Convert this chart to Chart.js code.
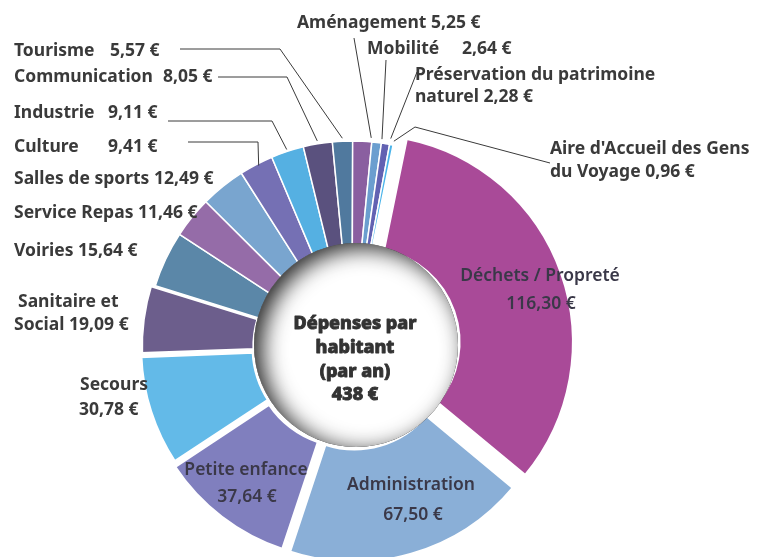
<!DOCTYPE html>
<html><head><meta charset="utf-8">
<script src="https://cdn.jsdelivr.net/npm/chart.js@4.4.1/dist/chart.umd.min.js"></script>
<style>html,body{margin:0;padding:0;background:#fff}#wrap{width:759px;height:557px;position:relative}</style>
</head><body><div id="wrap"><canvas id="c"></canvas></div>
<script>
// ---- DATA ----
const categories = ["Déchets / Propreté","Administration","Petite enfance","Secours","Sanitaire et Social","Voiries","Service Repas","Salles de sports","Culture","Industrie","Communication","Tourisme","Aménagement","Mobilité","Préservation du patrimoine naturel","Aire d'Accueil des Gens du Voyage"];
const values = [116.30,67.50,37.64,30.78,19.09,15.64,11.46,12.49,9.41,9.11,8.05,5.57,5.25,2.64,2.28,0.96];
const centerLines = ["Dépenses par","habitant","(par an)","438 €"];

// ---- STYLE ----
const sliceColors = ["#a94a98","#8aafd7","#807fbe","#63bae8","#6c5e8c","#5b87a8","#956ca8","#79a5cf","#7570b4","#55b0e2","#5a517e","#50799e","#8a5fa0","#6b9ecf","#6262b2","#4ab4ea"];
const sliceOffsets = [56,36,24,16,12,0,0,0,0,0,0,0,0,0,0,0];
const sliceBorders = [2,3,3,4,4,1.5,1.5,1.5,1.5,1.5,1.5,1.5,1.5,1.5,1.5,1.5];

const fmt = v => v.toFixed(2).replace('.', ',') + ' €';
const W = (i, a, b) => categories[i].split(' ').slice(a, b).join(' ');
const OUT = 'bold 17.5px "Noto Sans"';
const IN = '600 17.5px "Noto Sans"';
const labelPieces = [
  [0, i => categories[i], 540, 276, 'center', IN], [0, i => fmt(values[i]), 541, 304, 'center', IN],
  [1, i => categories[i], 411, 485, 'center', IN], [1, i => fmt(values[i]), 413, 515, 'center', IN],
  [2, i => categories[i], 246, 470, 'center', IN], [2, i => fmt(values[i]), 247, 497, 'center', IN],
  [3, i => categories[i], 80, 385, 'left', OUT], [3, i => fmt(values[i]), 79, 410, 'left', OUT],
  [4, i => W(i,0,2), 18, 302, 'left', OUT], [4, i => W(i,2) + ' ' + fmt(values[i]), 14, 325, 'left', OUT],
  [5, i => categories[i] + ' ' + fmt(values[i]), 14, 251, 'left', OUT],
  [6, i => categories[i] + ' ' + fmt(values[i]), 14, 213, 'left', OUT],
  [7, i => categories[i] + ' ' + fmt(values[i]), 14, 179, 'left', OUT],
  [8, i => categories[i], 14, 147, 'left', OUT], [8, i => fmt(values[i]), 108, 147, 'left', OUT],
  [9, i => categories[i], 14, 113, 'left', OUT], [9, i => fmt(values[i]), 108, 113, 'left', OUT],
  [10, i => categories[i], 14, 77, 'left', OUT], [10, i => fmt(values[i]), 163, 77, 'left', OUT],
  [11, i => categories[i], 14, 51, 'left', OUT], [11, i => fmt(values[i]), 110, 51, 'left', OUT],
  [12, i => categories[i] + ' ' + fmt(values[i]), 297, 23, 'left', OUT],
  [13, i => categories[i], 367, 49, 'left', OUT], [13, i => fmt(values[i]), 462, 49, 'left', OUT],
  [14, i => W(i,0,3), 415, 75, 'left', OUT], [14, i => W(i,3) + ' ' + fmt(values[i]), 415, 97, 'left', OUT],
  [15, i => W(i,0,4), 550, 149, 'left', OUT], [15, i => W(i,4) + ' ' + fmt(values[i]), 550, 172, 'left', OUT]
];
const leaders = [
  [11, [[180,49],[280,49]], 0.5, 3],
  [10, [[218,77],[287,77]], 0.5, 3],
  [9, [[168,121],[272,121]], 0.5, 2],
  [8, [[188,142],[258,142]], 0.55, -2],
  [12, [[354,38]], 0.95, 4],
  [13, [[386,60]], 1.0, 4],
  [14, [[417,72]], 1.0, 6],
  [15, [[550,163],[415,127]], 1.0, 4]
];

const overlay = {
  id: 'overlay',
  afterDatasetsDraw(chart) {
    const ctx = chart.ctx;
    const meta = chart.getDatasetMeta(0);
    const a0 = meta.data[0];
    const cx = a0.x, cy = a0.y;
    const ccx = cx + 4, ccy = cy - 2, R = 102;
    ctx.save();
    ctx.beginPath(); ctx.arc(ccx, ccy, R, 0, Math.PI * 2); ctx.fillStyle = '#ffffff'; ctx.fill();
    ctx.save();
    ctx.beginPath(); ctx.arc(ccx, ccy, R, 0, Math.PI * 2); ctx.clip();
    ctx.shadowColor = 'rgba(0,0,0,0.85)';
    ctx.shadowBlur = 22;
    ctx.shadowOffsetX = 8;
    ctx.shadowOffsetY = 5;
    ctx.beginPath();
    ctx.arc(ccx, ccy, R + 40, 0, Math.PI * 2);
    ctx.arc(ccx, ccy, R, 0, Math.PI * 2, true);
    ctx.fillStyle = '#000';
    ctx.fill();
    ctx.restore();

    ctx.fillStyle = '#333333';
    ctx.strokeStyle = '#333333';
    ctx.lineWidth = 0.9;
    ctx.lineJoin = 'round';
    ctx.font = '800 18px "Noto Sans"';
    ctx.textAlign = 'center'; ctx.textBaseline = 'middle';
    const ys = [324, 348, 372, 395];
    centerLines.forEach((t, k) => {
      const y = cy + (ys[k] - 347);
      ctx.fillText(t, ccx - 1, y);
      ctx.strokeText(t, ccx - 1, y);
    });
    ctx.strokeStyle = '#3a3a3a'; ctx.lineWidth = 1;
    leaders.forEach(([i, pts, frac, extra]) => {
      const arc = meta.data[i];
      const off = (sliceOffsets[i] || 0) / 4;
      const mid = (arc.startAngle + arc.endAngle) / 2;
      const ang = arc.startAngle + (arc.endAngle - arc.startAngle) * frac;
      const r = arc.outerRadius + extra;
      const ex = arc.x + Math.cos(mid) * off + Math.cos(ang) * r;
      const ey = arc.y + Math.sin(mid) * off + Math.sin(ang) * r;
      ctx.beginPath();
      ctx.moveTo(pts[0][0], pts[0][1]);
      for (let k = 1; k < pts.length; k++) ctx.lineTo(pts[k][0], pts[k][1]);
      ctx.lineTo(ex, ey);
      ctx.stroke();
    });
    ctx.textBaseline = 'middle';
    labelPieces.forEach(([i, fn, x, y, align, font]) => {
      ctx.font = font; ctx.textAlign = align;
      ctx.fillStyle = font === IN ? '#3a3848' : '#3a3a3a';
      ctx.fillText(fn(i), x, y);
    });
    ctx.restore();
  }
};

new Chart(document.getElementById('c'), {
  type: 'doughnut',
  data: {
    labels: categories,
    datasets: [{
      data: values,
      backgroundColor: sliceColors,
      borderColor: '#ffffff',
      borderWidth: sliceBorders,
      offset: sliceOffsets,
      hoverOffset: 0
    }]
  },
  options: {
    responsive: true,
    maintainAspectRatio: false,
    animation: false,
    events: [],
    rotation: 11.5,
    radius: 206,
    cutout: '45%',
    layout: { padding: { left: 0, right: 55, top: 137, bottom: 0 } },
    plugins: { legend: { display: false }, tooltip: { enabled: false } }
  },
  plugins: [overlay]
});
</script></body></html>
